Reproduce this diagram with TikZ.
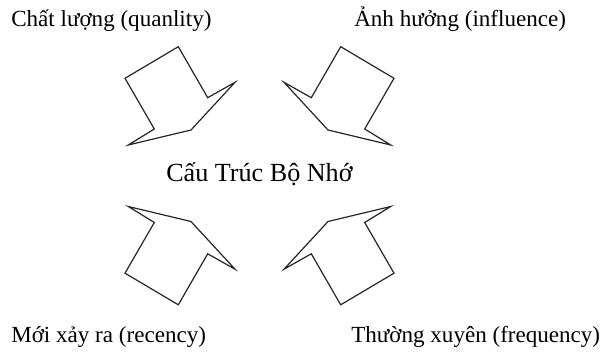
\documentclass[tikz,border=0pt]{standalone}
\usepackage{fontspec}
\setmainfont{Liberation Serif}
\usetikzlibrary{positioning}
\definecolor{bkLine}{HTML}{262626}
\tikzset{
  bk/.style={x=0.75pt, y=-0.75pt},
  lbl/.style={font=\fontsize{17.3}{20}\selectfont, anchor=base west, inner sep=0pt},
  ttl/.style={lbl, font=\fontsize{19.6}{23}\selectfont},
  blk/.style={draw=bkLine, line width=0.9pt, line join=miter, fill=white},
}

\begin{document}
\begin{tikzpicture}[bk]
\useasboundingbox (0,0) rectangle (606,352);

\node[lbl] (qual) at (11,27) {Chất lượng (quanlity)};
\node[lbl] (infl) at (354,27) {Ảnh hưởng (influence)};
\node[lbl] (recen) at (11,342) {Mới xảy ra (recency)};
\node[lbl] (freq) at (351,342) {Thường xuyên (frequency)};
\node[ttl] (mem) at (166,182) {Cấu Trúc Bộ Nhớ};

% four block arrows, mirrored round the middle
\foreach \sx/\sy in {1/1,-1/1,1/-1,-1/-1}
  \draw[blk, shift={(259.5,175.75)}, xscale=\sx, yscale=\sy]
    (-81.2,-129.05) -- (-134.5,-97.45) -- (-105.2,-46.75) -- (-131.2,-30.75)
    -- (-68.5,-45.75) -- (-24.5,-93.45) -- (-51.8,-78.05) -- cycle;
\end{tikzpicture}
\end{document}
